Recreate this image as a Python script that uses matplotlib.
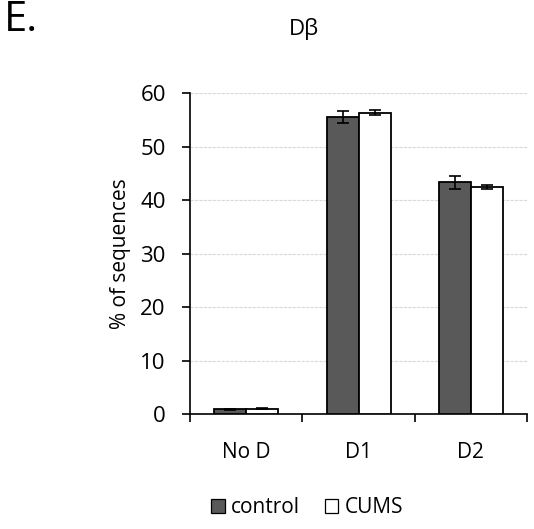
import matplotlib.pyplot as plt
import numpy as np

plt.rcParams['font.family'] = ['Open Sans', 'DejaVu Sans']

categories = ['No D', 'D1', 'D2']
control = [0.9, 55.5, 43.3]
control_err = [0.15, 1.1, 1.25]
cums = [1.0, 56.3, 42.4]
cums_err = [0.12, 0.45, 0.4]

fig = plt.figure(figsize=(5.34, 5.29), dpi=100)
ax = fig.add_axes([0.356, 0.217, 0.631, 0.607])

x = np.arange(len(categories))
w = 0.285
err_kw = dict(ecolor='black', elinewidth=1.2, capsize=4, capthick=1.2)
ax.bar(x - w / 2, control, w, yerr=control_err, color='#595959', edgecolor='black',
       linewidth=1.3, error_kw=err_kw, label='control', zorder=3)
ax.bar(x + w / 2, cums, w, yerr=cums_err, color='white', edgecolor='black',
       linewidth=1.3, error_kw=err_kw, label='CUMS', zorder=3)

ax.set_xlim(-0.5, 2.5)
ax.set_ylim(0, 60)
ax.set_yticks(range(0, 61, 10))
ax.set_xticks([-0.5, 0.5, 1.5, 2.5], minor=False)
ax.set_xticklabels([])
ax.set_xticks(x, minor=True)
ax.set_xticklabels(categories, minor=True)
ax.tick_params(axis='x', which='minor', length=0, pad=20, labelsize=15)
ax.tick_params(axis='x', which='major', direction='out', length=6, width=1.2)
ax.tick_params(axis='y', direction='out', length=6, width=1.2, labelsize=16, pad=11.5)

ax.grid(axis='y', color='#d9d9d9', linestyle=(0, (3, 1)), linewidth=0.8, zorder=0)
for side in ['top', 'right']:
    ax.spines[side].set_visible(False)
ax.spines['left'].set_linewidth(1.2)
ax.spines['bottom'].set_linewidth(1.2)

ax.set_ylabel('% of sequences', fontsize=15, labelpad=7)

fig.text(0.008, 0.962, 'E.', fontsize=30, va='center', ha='left')
fig.text(0.57, 0.946, 'Dβ', fontsize=16, va='center', ha='center')

leg = fig.legend(loc='center', bbox_to_anchor=(0.575, 0.04), ncol=2, frameon=False,
                 fontsize=15, handlelength=0.65, handleheight=0.65, handletextpad=0.3,
                 columnspacing=1.2)
for h in leg.legend_handles:
    h.set_linewidth(0.9)

fig.savefig('out.png', dpi=100)
